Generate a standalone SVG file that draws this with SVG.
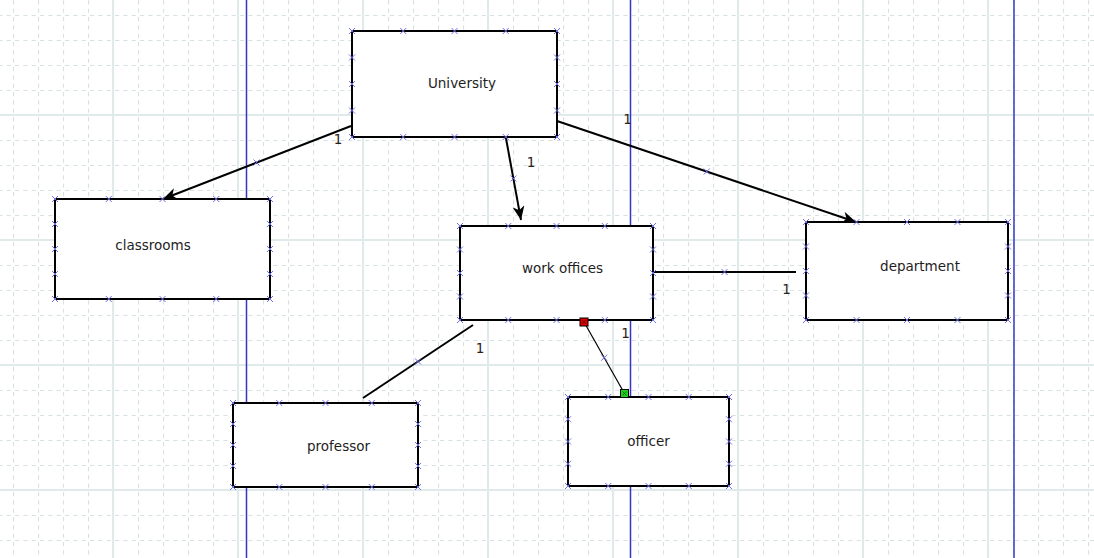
<svg xmlns="http://www.w3.org/2000/svg" xmlns:xlink="http://www.w3.org/1999/xlink" width="1094" height="558" viewBox="0 0 1094 558">
<style>
.box{fill:#fff;stroke:#000;stroke-width:2}
.lbl{font-family:"DejaVu Sans",Verdana,sans-serif;font-size:13.5px;fill:#1e1e1e;text-anchor:middle}
.num{font-family:"DejaVu Sans",Verdana,sans-serif;font-size:13.5px;fill:#2a2218;text-anchor:middle}
.con{stroke:#000;stroke-width:2;fill:none}
.thin{stroke:#000;stroke-width:1.2;fill:none}
.lane{stroke:#3434c8;stroke-width:1.5}
</style>
<defs>
<pattern id="gDash" patternUnits="userSpaceOnUse" x="13" y="15" width="25" height="25">
<line x1="0.5" y1="0" x2="0.5" y2="25" stroke="#d6e2e2" stroke-width="1.2" stroke-dasharray="4.1667 4.1667" stroke-dashoffset="-2"/>
<line x1="0" y1="0.5" x2="25" y2="0.5" stroke="#d6e2e2" stroke-width="1.2" stroke-dasharray="4.1667 4.1667" stroke-dashoffset="-2"/>
</pattern>
<pattern id="gSolid" patternUnits="userSpaceOnUse" x="112" y="114" width="125" height="125">
<line x1="1" y1="0" x2="1" y2="125" stroke="#e1eaea" stroke-width="2"/>
<line x1="0" y1="1" x2="125" y2="1" stroke="#e1eaea" stroke-width="2"/>
</pattern>
<g id="xm"><path d="M-3,-3 L3,3 M-3,3 L3,-3" stroke="#7070e6" stroke-width="1" fill="none"/></g>
<marker id="arr" markerUnits="userSpaceOnUse" markerWidth="16" markerHeight="12" refX="14" refY="6" orient="auto">
<path d="M0,0 L14,6 L0,12 L4,6 z" fill="#000"/>
</marker>
</defs>
<rect x="0" y="0" width="1094" height="558" fill="#fff"/>
<rect x="0" y="0" width="1094" height="558" fill="url(#gDash)"/>
<rect x="0" y="0" width="1094" height="558" fill="url(#gSolid)"/>
<g id="lanes">
<line class="lane" x1="246.5" y1="0" x2="246.5" y2="558"/>
<line class="lane" x1="630.5" y1="0" x2="630.5" y2="558"/>
<line class="lane" x1="1014" y1="0" x2="1014" y2="558"/>
</g>

<g id="connectors">
<line class="con" x1="351" y1="126" x2="163" y2="199" marker-end="url(#arr)"/>
<use href="#xm" x="256.5" y="162.5"/>
<text class="num" x="338" y="144">1</text>
<line class="con" x1="505.75" y1="137" x2="521" y2="220" marker-end="url(#arr)"/>
<use href="#xm" x="513.4" y="178.5"/>
<text class="num" x="531" y="167">1</text>
<line class="con" x1="557" y1="121" x2="856" y2="222" marker-end="url(#arr)"/>
<use href="#xm" x="706.75" y="171.5"/>
<text class="num" x="627.5" y="124">1</text>
<line class="con" x1="653" y1="272" x2="796" y2="272"/>
<use href="#xm" x="724.5" y="272"/>
<text class="num" x="786.5" y="294">1</text>
<line class="con" x1="473" y1="325" x2="363" y2="398"/>
<use href="#xm" x="418" y="361.5"/>
<text class="num" x="480" y="353">1</text>
<line class="thin" x1="584" y1="322" x2="624.5" y2="393.5"/>
<use href="#xm" x="604.2" y="357.7"/>
<text class="num" x="625.5" y="338">1</text>
</g>

<g id="university">
<rect class="box" x="352" y="31" width="205" height="106"/>
<text class="lbl" x="462" y="88">University</text>
<use href="#xm" x="352" y="31"/><use href="#xm" x="403.25" y="31"/><use href="#xm" x="454.5" y="31"/><use href="#xm" x="505.75" y="31"/><use href="#xm" x="557" y="31"/>
<use href="#xm" x="352" y="137"/><use href="#xm" x="403.25" y="137"/><use href="#xm" x="454.5" y="137"/><use href="#xm" x="505.75" y="137"/><use href="#xm" x="557" y="137"/>
<use href="#xm" x="352" y="57.5"/><use href="#xm" x="352" y="84"/><use href="#xm" x="352" y="110.5"/>
<use href="#xm" x="557" y="57.5"/><use href="#xm" x="557" y="84"/><use href="#xm" x="557" y="110.5"/>
</g>

<g id="classrooms">
<rect class="box" x="55" y="199" width="215" height="100"/>
<text class="lbl" x="153" y="250">classrooms</text>
<use href="#xm" x="55" y="199"/><use href="#xm" x="108.75" y="199"/><use href="#xm" x="162.5" y="199"/><use href="#xm" x="216.25" y="199"/><use href="#xm" x="270" y="199"/>
<use href="#xm" x="55" y="299"/><use href="#xm" x="108.75" y="299"/><use href="#xm" x="162.5" y="299"/><use href="#xm" x="216.25" y="299"/><use href="#xm" x="270" y="299"/>
<use href="#xm" x="55" y="224"/><use href="#xm" x="55" y="249"/><use href="#xm" x="55" y="274"/>
<use href="#xm" x="270" y="224"/><use href="#xm" x="270" y="249"/><use href="#xm" x="270" y="274"/>
</g>

<g id="work-offices">
<rect class="box" x="460" y="226" width="193" height="94"/>
<text class="lbl" x="562.5" y="272.5">work offices</text>
<use href="#xm" x="460" y="226"/><use href="#xm" x="508.25" y="226"/><use href="#xm" x="556.5" y="226"/><use href="#xm" x="604.75" y="226"/><use href="#xm" x="653" y="226"/>
<use href="#xm" x="460" y="320"/><use href="#xm" x="508.25" y="320"/><use href="#xm" x="556.5" y="320"/><use href="#xm" x="604.75" y="320"/><use href="#xm" x="653" y="320"/>
<use href="#xm" x="460" y="249.5"/><use href="#xm" x="460" y="273"/><use href="#xm" x="460" y="296.5"/>
<use href="#xm" x="653" y="249.5"/><use href="#xm" x="653" y="273"/><use href="#xm" x="653" y="296.5"/>
</g>

<g id="department">
<rect class="box" x="806" y="222" width="202" height="98"/>
<text class="lbl" x="920" y="270.5">department</text>
<use href="#xm" x="806" y="222"/><use href="#xm" x="856.5" y="222"/><use href="#xm" x="907" y="222"/><use href="#xm" x="957.5" y="222"/><use href="#xm" x="1008" y="222"/>
<use href="#xm" x="806" y="320"/><use href="#xm" x="856.5" y="320"/><use href="#xm" x="907" y="320"/><use href="#xm" x="957.5" y="320"/><use href="#xm" x="1008" y="320"/>
<use href="#xm" x="806" y="246.5"/><use href="#xm" x="806" y="271"/><use href="#xm" x="806" y="295.5"/>
<use href="#xm" x="1008" y="246.5"/><use href="#xm" x="1008" y="271"/><use href="#xm" x="1008" y="295.5"/>
</g>

<g id="professor">
<rect class="box" x="233" y="403" width="185" height="84"/>
<text class="lbl" x="338.5" y="450.5">professor</text>
<use href="#xm" x="233" y="403"/><use href="#xm" x="279.25" y="403"/><use href="#xm" x="325.5" y="403"/><use href="#xm" x="371.75" y="403"/><use href="#xm" x="418" y="403"/>
<use href="#xm" x="233" y="487"/><use href="#xm" x="279.25" y="487"/><use href="#xm" x="325.5" y="487"/><use href="#xm" x="371.75" y="487"/><use href="#xm" x="418" y="487"/>
<use href="#xm" x="233" y="424"/><use href="#xm" x="233" y="445"/><use href="#xm" x="233" y="466"/>
<use href="#xm" x="418" y="424"/><use href="#xm" x="418" y="445"/><use href="#xm" x="418" y="466"/>
</g>

<g id="officer">
<rect class="box" x="568" y="397" width="161" height="89"/>
<text class="lbl" x="648.5" y="446">officer</text>
<use href="#xm" x="568" y="397"/><use href="#xm" x="608.25" y="397"/><use href="#xm" x="648.5" y="397"/><use href="#xm" x="688.75" y="397"/><use href="#xm" x="729" y="397"/>
<use href="#xm" x="568" y="486"/><use href="#xm" x="608.25" y="486"/><use href="#xm" x="648.5" y="486"/><use href="#xm" x="688.75" y="486"/><use href="#xm" x="729" y="486"/>
<use href="#xm" x="568" y="419.25"/><use href="#xm" x="568" y="441.5"/><use href="#xm" x="568" y="463.75"/>
<use href="#xm" x="729" y="419.25"/><use href="#xm" x="729" y="441.5"/><use href="#xm" x="729" y="463.75"/>
</g>

<g id="handles">
<rect x="580" y="318" width="8" height="8" fill="#e00000" stroke="#000" stroke-width="1"/>
<path d="M582,320 L586,324 M582,324 L586,320" stroke="#600" stroke-width="0.8"/>
<rect x="620.5" y="389.5" width="8" height="8" fill="#20d020" stroke="#000" stroke-width="1"/>
<path d="M622.5,391.5 L626.5,395.5 M622.5,395.5 L626.5,391.5" stroke="#060" stroke-width="0.8"/>
</g>
</svg>
